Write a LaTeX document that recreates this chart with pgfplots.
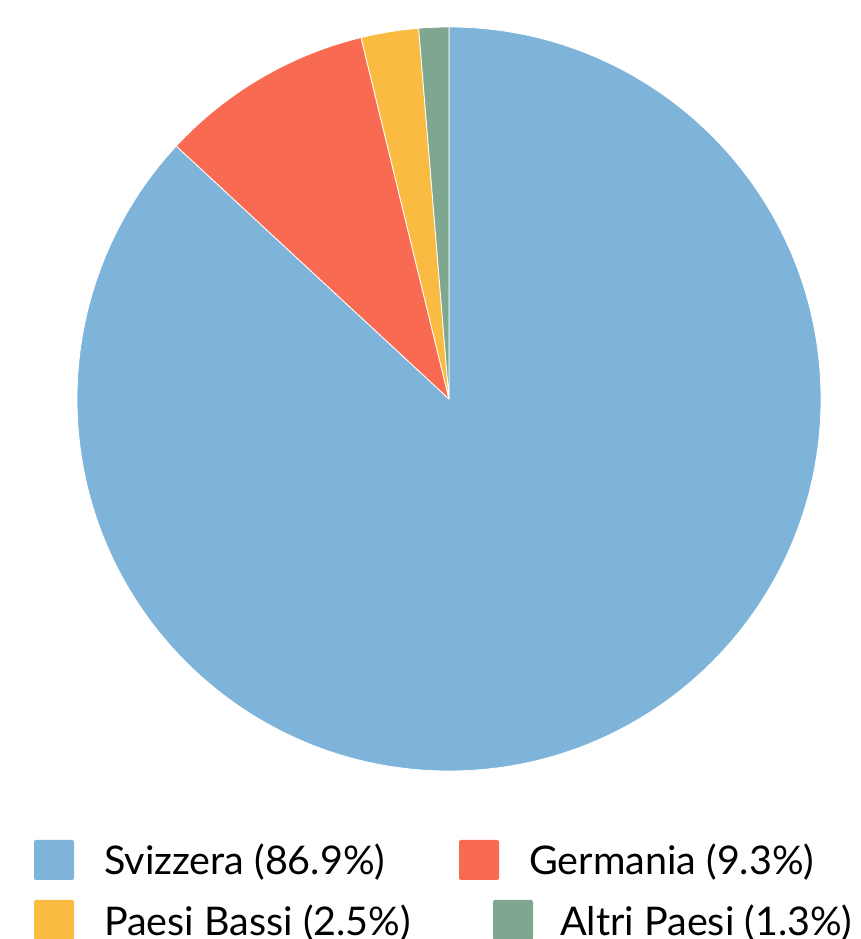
\documentclass[border=0pt]{standalone}
\usepackage{pgfplots}
\pgfplotsset{compat=1.18}
\usepackage{pgfplotstable}
\usepackage{fontspec}
\setmainfont{Lato}
\definecolor{cSv}{HTML}{7EB4DA}
\definecolor{cGe}{HTML}{F96A52}
\definecolor{cPb}{HTML}{F9BB41}
\definecolor{cAp}{HTML}{7FA68E}
\pgfplotstableread{
name share color
Svizzera 86.9 cSv
Germania 9.3 cGe
PaesiBassi 2.5 cPb
AltriPaesi 1.3 cAp
}\piedata
\begin{document}
\begin{tikzpicture}
\path[use as bounding box] (0,0) rectangle (861bp,939bp);
\begin{axis}[
  at={(449bp,540bp)}, anchor=origin,
  x=372bp, y=372bp,
  xmin=-1, xmax=1, ymin=-1, ymax=1,
  hide axis, clip=false,
]
\pgfplotstablegetrowsof{\piedata}
\pgfmathtruncatemacro{\nrows}{\pgfplotsretval-1}
\xdef\startang{90}
\pgfplotsinvokeforeach{0,...,\nrows}{
  \pgfplotstablegetelem{#1}{share}\of{\piedata}
  \pgfmathsetmacro{\sweep}{\pgfplotsretval*3.6}
  \pgfplotstablegetelem{#1}{color}\of{\piedata}
  \edef\slicecol{\pgfplotsretval}
  \pgfmathsetmacro{\endang}{\startang-\sweep}
  \edef\temp{\noexpand\fill[\slicecol, draw=white, line width=0.8bp, line join=round]
    (axis cs:0,0) -- (axis cs:{cos(\startang)},{sin(\startang)})
    arc[start angle=\startang, end angle=\endang, radius=372bp] -- cycle;}
  \temp
  \xdef\startang{\endang}
}
\end{axis}
\begin{scope}[every node/.style={inner sep=0pt, font=\fontsize{39.5bp}{46bp}\selectfont}]
\fill[cSv, rounded corners=2bp] (34bp,59bp) rectangle (74bp,99bp);
\node[anchor=base west] at (104bp,64bp) {Svizzera (86.9\%)};
\fill[cGe, rounded corners=2bp] (459bp,59bp) rectangle (499bp,99bp);
\node[anchor=base west] at (529bp,64bp) {Germania (9.3\%)};
\fill[cPb, rounded corners=2bp] (34bp,-1bp) rectangle (74bp,39bp);
\node[anchor=base west] at (104bp,4bp) {Paesi Bassi (2.5\%)};
\fill[cAp, rounded corners=2bp] (493bp,-1bp) rectangle (533bp,39bp);
\node[anchor=base west] at (560bp,4bp) {Altri Paesi (1.3\%)};
\end{scope}
\end{tikzpicture}
\end{document}
